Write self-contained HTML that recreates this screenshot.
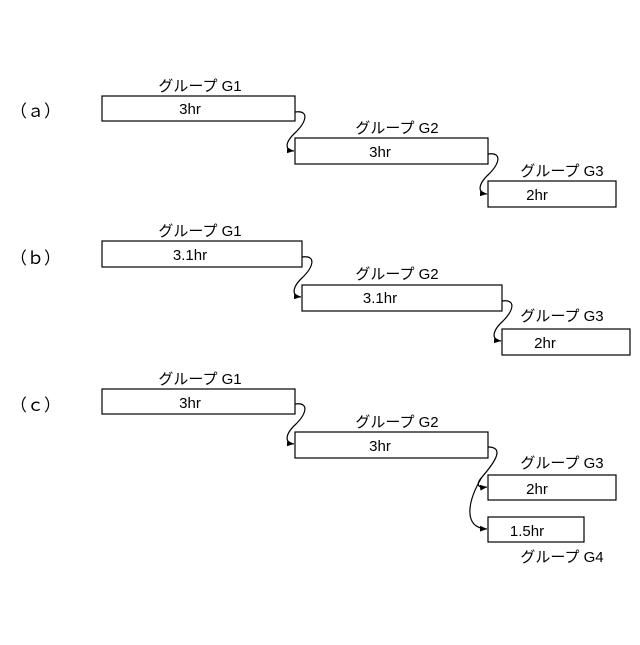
<!DOCTYPE html>
<html><head><meta charset="utf-8"><style>body{margin:0;background:#fff}</style></head><body>
<svg width="640" height="640" viewBox="0 0 640 640" xmlns="http://www.w3.org/2000/svg" font-family="Liberation Sans, Noto Sans CJK JP, sans-serif" font-size="15" fill="#000">
<defs><marker id="ar" markerWidth="8" markerHeight="8" refX="7" refY="4" orient="auto" markerUnits="userSpaceOnUse"><path d="M0,1 L7,4 L0,7 Z" fill="#000"/></marker></defs>
<g fill="none" stroke="#000" stroke-width="1.2">
<!-- a -->
<rect x="102" y="96" width="193" height="25"/>
<rect x="295" y="138" width="193" height="26"/>
<rect x="488" y="181" width="128" height="26"/>
<path d="M295,112 C310,110 306,122 296,132 C285,142 284,150 294,151" marker-end="url(#ar)"/>
<path d="M488,154 C503,152 499,164 489,174 C478,184 477,193 487,194" marker-end="url(#ar)"/>
<!-- b -->
<rect x="102" y="241" width="200" height="26"/>
<rect x="302" y="285" width="200" height="26"/>
<rect x="502" y="329" width="128" height="26"/>
<path d="M302,257 C317,255 313,267 303,277 C292,287 291,296 301,297" marker-end="url(#ar)"/>
<path d="M502,301 C517,299 513,311 503,321 C492,331 491,340 501,341" marker-end="url(#ar)"/>
<!-- c -->
<rect x="102" y="389" width="193" height="25"/>
<rect x="295" y="432" width="193" height="26"/>
<rect x="488" y="475" width="128" height="25"/>
<rect x="488" y="517" width="96" height="25"/>
<path d="M295,404 C310,402 306,414 296,424 C285,434 284,443 294,444" marker-end="url(#ar)"/>
<path d="M488,447 C505,447 495,462 482,477 C475,485 478,488 487,487" marker-end="url(#ar)"/>
<path d="M482,477 C468,500 462,528 487,529" marker-end="url(#ar)"/>
</g>
<text x="10" y="117" font-size="17">（ａ）</text>
<text x="10" y="264" font-size="17">（ｂ）</text>
<text x="10" y="411" font-size="17">（ｃ）</text>
<g text-anchor="middle">
<text x="200" y="91">グループ G1</text><text x="190" y="114">3hr</text>
<text x="397" y="133">グループ G2</text><text x="380" y="157">3hr</text>
<text x="562" y="176">グループ G3</text><text x="537" y="200">2hr</text>
<text x="200" y="236">グループ G1</text><text x="190" y="260">3.1hr</text>
<text x="397" y="279">グループ G2</text><text x="380" y="303">3.1hr</text>
<text x="562" y="321">グループ G3</text><text x="545" y="348">2hr</text>
<text x="200" y="384">グループ G1</text><text x="190" y="408">3hr</text>
<text x="397" y="427">グループ G2</text><text x="380" y="451">3hr</text>
<text x="562" y="468">グループ G3</text><text x="537" y="494">2hr</text>
<text x="527" y="536">1.5hr</text>
<text x="562" y="562">グループ G4</text>
</g>
</svg>
</body></html>
